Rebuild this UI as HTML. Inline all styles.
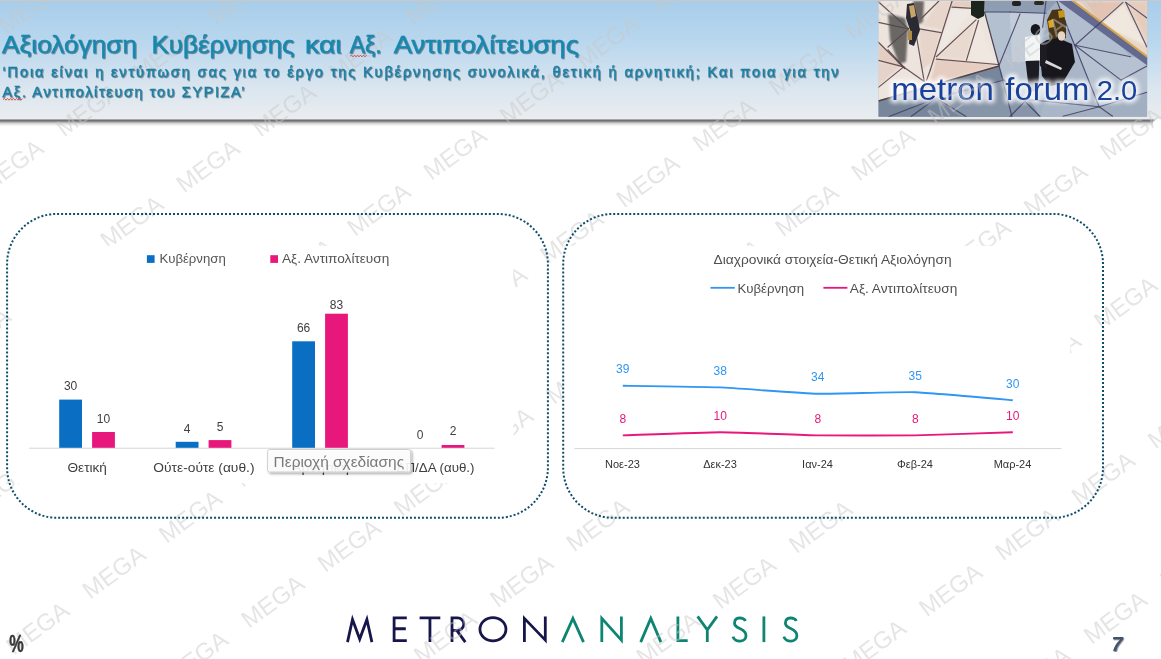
<!DOCTYPE html>
<html><head><meta charset="utf-8"><title>slide</title>
<style>
html,body{margin:0;padding:0;background:#fff;}
body{width:1161px;height:659px;overflow:hidden;font-family:"Liberation Sans",sans-serif;}
svg{display:block;font-family:"Liberation Sans",sans-serif;will-change:transform;transform:translateZ(0);}
</style></head><body>
<svg width="1161" height="659" viewBox="0 0 1161 659">
<defs>
<linearGradient id="hg" x1="0" y1="0" x2="0" y2="1">
<stop offset="0" stop-color="#a7cdea"/><stop offset="0.35" stop-color="#b9d7ee"/><stop offset="0.75" stop-color="#dbe6ef"/><stop offset="1" stop-color="#eaedf0"/>
</linearGradient>
<linearGradient id="sh" x1="0" y1="0" x2="0" y2="1">
<stop offset="0" stop-color="#3c3c3c" stop-opacity="0.9"/><stop offset="0.3" stop-color="#555" stop-opacity="0.7"/><stop offset="0.6" stop-color="#777" stop-opacity="0.3"/><stop offset="1" stop-color="#888" stop-opacity="0"/>
</linearGradient>
<filter id="glow" x="-10%" y="-40%" width="120%" height="180%"><feGaussianBlur stdDeviation="2.2"/></filter>
<filter id="blur05" x="-20%" y="-20%" width="140%" height="140%"><feGaussianBlur stdDeviation="0.5"/></filter>
<filter id="blur1" x="-20%" y="-20%" width="140%" height="140%"><feGaussianBlur stdDeviation="1.2"/></filter>
<filter id="blur2" x="-20%" y="-20%" width="140%" height="140%"><feGaussianBlur stdDeviation="2.5"/></filter>
<filter id="ts" x="-5%" y="-20%" width="110%" height="150%"><feDropShadow dx="0.8" dy="0.9" stdDeviation="0.5" flood-color="#123" flood-opacity="0.55"/></filter>
<filter id="tip" x="-10%" y="-30%" width="125%" height="180%"><feDropShadow dx="1.5" dy="1.5" stdDeviation="1.2" flood-color="#000" flood-opacity="0.35"/></filter>
<clipPath id="photo"><rect x="878.5" y="1" width="268.7" height="115.7"/></clipPath>
<clipPath id="hdr"><rect x="0" y="0" width="1161" height="119"/></clipPath>
<clipPath id="body"><rect x="0" y="119" width="1161" height="540"/></clipPath>
</defs>
<rect width="1161" height="659" fill="#fff"/>

<rect x="0" y="119.3" width="1153" height="7" fill="url(#sh)"/>
<path d="M1153 119.3 L1156 119.6 L1153 122 Z" fill="#666" opacity="0.6"/>
<rect x="0" y="0" width="1161" height="119.3" fill="url(#hg)"/>
<rect x="0" y="0" width="1161" height="1.2" fill="#c6c9cc"/>
<g clip-path="url(#photo)"><rect x="878" y="0" width="270" height="118" fill="#a3b1c4"/><polygon points="984.5,12 1046,13 1042,60 1030,100 1005,100 999,65.5" fill="#b3c0d0"/><polygon points="1010,13 1044,14 1040,62 1012,62" fill="#c3cdd9"/><polygon points="983,1 1057,1 1046,13 984.5,12" fill="#8f9db3"/><polygon points="1057,1 1075,45 1130.6,56.7 1099,23 1090,1" fill="#b1bed0"/><polygon points="1075,45 1147,60 1147,92 1099,106.7" fill="#b6c2d2"/><polygon points="1075,45 1099,106.7 1063,117 1040,117 1050,80" fill="#a9b6c8"/><polygon points="1099,106.7 1147,92 1147,117 1063,117" fill="#a2afc1"/><polygon points="878,100.6 999,65.5 1004,80 1012,117 878,117" fill="#77869b"/><polygon points="936,98 1004,80 1030,100 1040,117 960,117" fill="#8795a8"/><polygon points="878,0 983,0 984.5,12 999,65.5 878,100.6" fill="#ede5dd"/><g filter="url(#blur1)"><polygon points="919,29 941,32.6 932,62 921.8,70" fill="#e7d4ca"/><polygon points="952,1 983,1 984,8 951,7" fill="#e4ccc1"/><polygon points="939,1 952,1 944,30 922,26" fill="#e8d6cc"/><polygon points="936,59 998,64.5 990,68 930,84" fill="#e5cdc2"/><polygon points="878,42 905,68.7 878,60" fill="#e3cec3"/><polygon points="878,62 901,66 878,86" fill="#e5d2c8"/><polygon points="952,10 972,10 940,52 944,30" fill="#efe9e4"/><polygon points="978,21 966,60 997,64" fill="#efe7e0"/><polygon points="976,20 937,57 966,60" fill="#e9dad0"/></g><polygon points="1071.5,0 1148,0 1148,57.5" fill="#ead6c6"/><g filter="url(#blur1)"><polygon points="1085,2 1123,2 1099,23" fill="#e3c3b2"/><polygon points="1100,24 1124,4 1146,46" fill="#f0e7de"/><polygon points="1128,2 1147,2 1147,40" fill="#e6ccbc"/></g><polygon points="1057,0 1071.5,0 1148,57.5 1148,66" fill="#5d638a" opacity="0.92"/><polygon points="1070,0 1073.5,0 1148,56 1148,58.6" fill="#d4a64e"/><line x1="878.4" y1="1.8" x2="908.6" y2="28.9" stroke="#5a4348" stroke-width="1.2" stroke-linecap="round" fill="none" opacity="0.9"/><line x1="878.4" y1="22.3" x2="908.6" y2="28.9" stroke="#5a4348" stroke-width="1.2" stroke-linecap="round" fill="none" opacity="0.9"/><line x1="878.4" y1="42.2" x2="905" y2="68.7" stroke="#5a4348" stroke-width="1.2" stroke-linecap="round" fill="none" opacity="0.9"/><line x1="908.6" y1="28.9" x2="888" y2="47" stroke="#5a4348" stroke-width="1.2" stroke-linecap="round" fill="none" opacity="0.9"/><line x1="919.4" y1="28.9" x2="941.1" y2="32.6" stroke="#5a4348" stroke-width="1.2" stroke-linecap="round" fill="none" opacity="0.9"/><line x1="952" y1="1.2" x2="930.3" y2="70" stroke="#5a4348" stroke-width="1.2" stroke-linecap="round" fill="none" opacity="0.9"/><line x1="952" y1="7.2" x2="972.5" y2="8.4" stroke="#5a4348" stroke-width="1.2" stroke-linecap="round" fill="none" opacity="0.9"/><line x1="976" y1="19.9" x2="936.3" y2="56.7" stroke="#5a4348" stroke-width="1.2" stroke-linecap="round" fill="none" opacity="0.9"/><line x1="978.5" y1="20.5" x2="966.4" y2="60.3" stroke="#5a4348" stroke-width="1.2" stroke-linecap="round" fill="none" opacity="0.9"/><line x1="936.3" y1="59.1" x2="997.8" y2="64.5" stroke="#5a4348" stroke-width="1.2" stroke-linecap="round" fill="none" opacity="0.9"/><line x1="915.8" y1="32.5" x2="924.2" y2="81.4" stroke="#5a4348" stroke-width="1.2" stroke-linecap="round" fill="none" opacity="0.9"/><line x1="938.7" y1="1.2" x2="921.8" y2="18" stroke="#5a4348" stroke-width="1.2" stroke-linecap="round" fill="none" opacity="0.9"/><line x1="878.4" y1="60.3" x2="903.7" y2="66.9" stroke="#5a4348" stroke-width="1.2" stroke-linecap="round" fill="none" opacity="0.9"/><line x1="903.7" y1="66.9" x2="878.4" y2="87.4" stroke="#5a4348" stroke-width="1.2" stroke-linecap="round" fill="none" opacity="0.9"/><line x1="903.7" y1="66.9" x2="924.2" y2="81.4" stroke="#5a4348" stroke-width="1.2" stroke-linecap="round" fill="none" opacity="0.9"/><line x1="930.3" y1="70" x2="926.6" y2="80.1" stroke="#5a4348" stroke-width="1.2" stroke-linecap="round" fill="none" opacity="0.9"/><line x1="903.7" y1="66.9" x2="888" y2="50" stroke="#5a4348" stroke-width="1.2" stroke-linecap="round" fill="none" opacity="0.9"/><line x1="984.5" y1="12" x2="999" y2="65.5" stroke="#4a4050" stroke-width="1.2"/><line x1="878.4" y1="101" x2="999" y2="66" stroke="#4b3a38" stroke-width="1.8" opacity="0.9"/><line x1="1010" y1="12" x2="1046" y2="13.3" stroke="#3f3d63" stroke-width="1.15" stroke-linecap="round" fill="none" opacity="0.85"/><line x1="1046" y1="1.2" x2="1042.6" y2="27.7" stroke="#3f3d63" stroke-width="1.15" stroke-linecap="round" fill="none" opacity="0.85"/><line x1="1057" y1="1.2" x2="1099.2" y2="106.7" stroke="#3f3d63" stroke-width="1.15" stroke-linecap="round" fill="none" opacity="0.85"/><line x1="1075" y1="45.2" x2="1130.6" y2="56.7" stroke="#3f3d63" stroke-width="1.15" stroke-linecap="round" fill="none" opacity="0.85"/><line x1="1075" y1="45.2" x2="1121" y2="80.1" stroke="#3f3d63" stroke-width="1.15" stroke-linecap="round" fill="none" opacity="0.85"/><line x1="1075" y1="45.2" x2="1123" y2="2.4" stroke="#3f3d63" stroke-width="1.15" stroke-linecap="round" fill="none" opacity="0.85"/><line x1="1125.8" y1="2.4" x2="1146.9" y2="47" stroke="#3f3d63" stroke-width="1.15" stroke-linecap="round" fill="none" opacity="0.85"/><line x1="1125.8" y1="2.4" x2="1146.9" y2="18" stroke="#3f3d63" stroke-width="1.15" stroke-linecap="round" fill="none" opacity="0.85"/><line x1="1099.2" y1="106.7" x2="1146.9" y2="92.2" stroke="#3f3d63" stroke-width="1.15" stroke-linecap="round" fill="none" opacity="0.85"/><line x1="1099.2" y1="106.7" x2="1112.5" y2="116.3" stroke="#3f3d63" stroke-width="1.15" stroke-linecap="round" fill="none" opacity="0.85"/><line x1="1099.2" y1="106.7" x2="1063" y2="116.3" stroke="#3f3d63" stroke-width="1.15" stroke-linecap="round" fill="none" opacity="0.85"/><line x1="1099.2" y1="106.7" x2="1026.9" y2="99.4" stroke="#3f3d63" stroke-width="1.15" stroke-linecap="round" fill="none" opacity="0.85"/><line x1="1121" y1="80.1" x2="1147" y2="66" stroke="#3f3d63" stroke-width="1.15" stroke-linecap="round" fill="none" opacity="0.85"/><line x1="999" y1="65.5" x2="1012" y2="117" stroke="#3f3d63" stroke-width="1.15" stroke-linecap="round" fill="none" opacity="0.85"/><line x1="999" y1="65.5" x2="1020" y2="14" stroke="#3f3d63" stroke-width="1.15" stroke-linecap="round" fill="none" opacity="0.85"/><line x1="936.3" y1="98.2" x2="889" y2="116.5" stroke="#3f3d63" stroke-width="1.15" stroke-linecap="round" fill="none" opacity="0.85"/><line x1="936.3" y1="98.2" x2="911" y2="116.5" stroke="#3f3d63" stroke-width="1.15" stroke-linecap="round" fill="none" opacity="0.85"/><line x1="936.3" y1="98.2" x2="966" y2="116.5" stroke="#3f3d63" stroke-width="1.15" stroke-linecap="round" fill="none" opacity="0.85"/><line x1="936.3" y1="98.2" x2="1004" y2="80" stroke="#3f3d63" stroke-width="1.15" stroke-linecap="round" fill="none" opacity="0.85"/><line x1="1004" y1="80" x2="1040" y2="116.5" stroke="#3f3d63" stroke-width="1.15" stroke-linecap="round" fill="none" opacity="0.85"/><line x1="1026.9" y1="99.4" x2="1010" y2="116.5" stroke="#3f3d63" stroke-width="1.15" stroke-linecap="round" fill="none" opacity="0.85"/><line x1="984.5" y1="12" x2="1010" y2="12" stroke="#3f3d63" stroke-width="1.15" stroke-linecap="round" fill="none" opacity="0.85"/><g filter="url(#blur1)"><polygon points="888,14 905,18 908,30 906,62 899,64 890,40" fill="#4a4748" opacity="0.8"/><polygon points="913,1 924,1 923,22 916,26" fill="#55504e" opacity="0.85"/></g><g filter="url(#blur05)"><polygon points="907,4 914,3 918,20 920,30 914,46 909,44 910,30 906,18" fill="#2b2a35"/><polygon points="909,6 914,5 916,16 911,18" fill="#c9a56a"/><polygon points="908,30 912,31 912,40 908,40" fill="#b08a4a"/><polygon points="971,0 984.5,0 984,16 978,19 971,15" fill="#1c201c"/><rect x="1012" y="1" width="9" height="5" rx="2" fill="#222"/><rect x="1034" y="1" width="10" height="4" rx="2" fill="#2a2a20"/><polygon points="1047,20 1052,10 1062,9 1066,22 1066,38 1050,40" fill="#4a3518"/><polygon points="1048,21 1053,19 1054,27 1049,28" fill="#d9a520"/><polygon points="1058,11 1064,10 1065,17 1059,18" fill="#c8951c"/><ellipse cx="1035.5" cy="29.5" rx="4.8" ry="5.6" fill="#15151a"/><polygon points="1025,37 1040,35 1041,61 1025,62" fill="#f2f4f6"/><polygon points="1025.5,61 1039.5,60.5 1038,92 1029,90" fill="#1b1b20"/><polygon points="1047,40 1058,38 1072,44 1075,62 1062,84 1050,86 1042,76 1040,56" fill="#17171c"/><polygon points="1040,44 1047,40 1047,70 1040,66" fill="#1a1a22"/><ellipse cx="1061.5" cy="36" rx="3.8" ry="4.8" fill="#e6d6c6"/><polygon points="1046,60 1062,68 1061,70 1045,63" fill="#d8d8d8"/></g><g fill="#fff" stroke="#fff" stroke-width="6" stroke-linejoin="round" filter="url(#glow)" opacity="0.85"><text x="891.3" y="99.6" font-size="30.5" textLength="102.5" lengthAdjust="spacingAndGlyphs">metron</text><text x="1005.3" y="99.6" font-size="30.5" textLength="84" lengthAdjust="spacingAndGlyphs">forum</text><text x="1096.8" y="99.6" font-size="28" textLength="40.5" lengthAdjust="spacingAndGlyphs">2.0</text></g><g fill="#17419a"><text x="891.3" y="99.6" font-size="30.5" textLength="102.5" lengthAdjust="spacingAndGlyphs">metron</text><text x="1005.3" y="99.6" font-size="30.5" textLength="84" lengthAdjust="spacingAndGlyphs">forum</text><text x="1096.8" y="99.6" font-size="28" textLength="40.5" lengthAdjust="spacingAndGlyphs">2.0</text></g></g>
<g fill="none" stroke-width="2.8" stroke-linejoin="miter" stroke-miterlimit="10"><g stroke="#16164b"><path d="M347.5 642.1 L352.5 619.4 L359.7 639.1 L366.9 619.4 L371.9 642.1"/><path d="M406.8 617.8 L394.1 617.8 L394.1 640.7 L406.8 640.7 M394.1 628.75 L405.8 628.75"/><path d="M419.6 617.8 L440.3 617.8 M429.95 617.8 L429.95 642.1"/><path d="M452 642.1 L452 617.8 L457.5 617.8 A6.3 6.3 0 0 1 457.5 630.4 L452 630.4 M456.8 630.4 L465.3 642.1"/><ellipse cx="492.95" cy="629.25" rx="13.0" ry="11.650000000000023"/><path d="M524.4 642.1 L524.4 618.4 L545.3 640.1 L545.3 616.4"/></g><g stroke="#0e8573"><path d="M562.3 642.1 L572.9 618.4 L583.5 642.1"/><path d="M601.8 642.1 L601.8 618.4 L621.4 640.1 L621.4 616.4"/><path d="M640.7 642.1 L650.8 618.4 L660.9 642.1"/><path d="M677.9 616.4 L677.9 640.7 L687.7 640.7"/><path d="M697.6 616.4 L707.3 629.9 L717.0 616.4 M707.3 629.4 L707.3 642.1"/><path d="M745.4 621.0 C744.3 617.1999999999999 734.3 616.0 734.5 623.4 C734.6999999999999 629.4 746.1999999999999 627.9 746.0 635.6999999999999 C745.8 642.9 734.3 642.6 733.0 636.6"/><path d="M763.9 616.4 L763.9 642.1"/><path d="M796.3000000000001 621.0 C795.2 617.1999999999999 785.2 616.0 785.4000000000001 623.4 C785.6 629.4 797.1 627.9 796.9000000000001 635.6999999999999 C796.7 642.9 785.2 642.6 783.9000000000001 636.6"/></g></g>
<g font-size="24" fill="#c8c8c8" opacity="0.47"><text transform="translate(-70.0,91.0) rotate(-36.25)" textLength="71" lengthAdjust="spacingAndGlyphs">MEGA</text><text transform="translate(6.3,35.1) rotate(-36.25)" textLength="71" lengthAdjust="spacingAndGlyphs">MEGA</text><text transform="translate(-12.1,193.4) rotate(-36.25)" textLength="71" lengthAdjust="spacingAndGlyphs">MEGA</text><text transform="translate(64.1,137.5) rotate(-36.25)" textLength="71" lengthAdjust="spacingAndGlyphs">MEGA</text><text transform="translate(140.4,81.6) rotate(-36.25)" textLength="71" lengthAdjust="spacingAndGlyphs">MEGA</text><text transform="translate(216.7,25.6) rotate(-36.25)" textLength="71" lengthAdjust="spacingAndGlyphs">MEGA</text><text transform="translate(-44.7,361.4) rotate(-36.25)" textLength="71" lengthAdjust="spacingAndGlyphs">MEGA</text><text transform="translate(31.6,305.4) rotate(-36.25)" textLength="71" lengthAdjust="spacingAndGlyphs">MEGA</text><text transform="translate(107.9,249.5) rotate(-36.25)" textLength="71" lengthAdjust="spacingAndGlyphs">MEGA</text><text transform="translate(184.1,193.6) rotate(-36.25)" textLength="71" lengthAdjust="spacingAndGlyphs">MEGA</text><text transform="translate(260.4,137.7) rotate(-36.25)" textLength="71" lengthAdjust="spacingAndGlyphs">MEGA</text><text transform="translate(336.6,81.8) rotate(-36.25)" textLength="71" lengthAdjust="spacingAndGlyphs">MEGA</text><text transform="translate(412.9,25.8) rotate(-36.25)" textLength="71" lengthAdjust="spacingAndGlyphs">MEGA</text><text transform="translate(-26.4,516.6) rotate(-36.25)" textLength="71" lengthAdjust="spacingAndGlyphs">MEGA</text><text transform="translate(49.9,460.7) rotate(-36.25)" textLength="71" lengthAdjust="spacingAndGlyphs">MEGA</text><text transform="translate(126.1,404.8) rotate(-36.25)" textLength="71" lengthAdjust="spacingAndGlyphs">MEGA</text><text transform="translate(202.4,348.9) rotate(-36.25)" textLength="71" lengthAdjust="spacingAndGlyphs">MEGA</text><text transform="translate(278.6,292.9) rotate(-36.25)" textLength="71" lengthAdjust="spacingAndGlyphs">MEGA</text><text transform="translate(354.9,237.0) rotate(-36.25)" textLength="71" lengthAdjust="spacingAndGlyphs">MEGA</text><text transform="translate(431.2,181.1) rotate(-36.25)" textLength="71" lengthAdjust="spacingAndGlyphs">MEGA</text><text transform="translate(507.4,125.2) rotate(-36.25)" textLength="71" lengthAdjust="spacingAndGlyphs">MEGA</text><text transform="translate(583.7,69.3) rotate(-36.25)" textLength="71" lengthAdjust="spacingAndGlyphs">MEGA</text><text transform="translate(660.0,13.3) rotate(-36.25)" textLength="71" lengthAdjust="spacingAndGlyphs">MEGA</text><text transform="translate(-62.4,711.7) rotate(-36.25)" textLength="71" lengthAdjust="spacingAndGlyphs">MEGA</text><text transform="translate(13.8,655.7) rotate(-36.25)" textLength="71" lengthAdjust="spacingAndGlyphs">MEGA</text><text transform="translate(90.1,599.8) rotate(-36.25)" textLength="71" lengthAdjust="spacingAndGlyphs">MEGA</text><text transform="translate(166.4,543.9) rotate(-36.25)" textLength="71" lengthAdjust="spacingAndGlyphs">MEGA</text><text transform="translate(242.6,488.0) rotate(-36.25)" textLength="71" lengthAdjust="spacingAndGlyphs">MEGA</text><text transform="translate(318.9,432.1) rotate(-36.25)" textLength="71" lengthAdjust="spacingAndGlyphs">MEGA</text><text transform="translate(395.2,376.1) rotate(-36.25)" textLength="71" lengthAdjust="spacingAndGlyphs">MEGA</text><text transform="translate(471.4,320.2) rotate(-36.25)" textLength="71" lengthAdjust="spacingAndGlyphs">MEGA</text><text transform="translate(547.7,264.3) rotate(-36.25)" textLength="71" lengthAdjust="spacingAndGlyphs">MEGA</text><text transform="translate(624.0,208.4) rotate(-36.25)" textLength="71" lengthAdjust="spacingAndGlyphs">MEGA</text><text transform="translate(700.2,152.5) rotate(-36.25)" textLength="71" lengthAdjust="spacingAndGlyphs">MEGA</text><text transform="translate(776.5,96.5) rotate(-36.25)" textLength="71" lengthAdjust="spacingAndGlyphs">MEGA</text><text transform="translate(852.8,40.6) rotate(-36.25)" textLength="71" lengthAdjust="spacingAndGlyphs">MEGA</text><text transform="translate(929.0,-15.3) rotate(-36.25)" textLength="71" lengthAdjust="spacingAndGlyphs">MEGA</text><text transform="translate(172.7,684.9) rotate(-36.25)" textLength="71" lengthAdjust="spacingAndGlyphs">MEGA</text><text transform="translate(249.0,629.0) rotate(-36.25)" textLength="71" lengthAdjust="spacingAndGlyphs">MEGA</text><text transform="translate(325.3,573.1) rotate(-36.25)" textLength="71" lengthAdjust="spacingAndGlyphs">MEGA</text><text transform="translate(401.5,517.2) rotate(-36.25)" textLength="71" lengthAdjust="spacingAndGlyphs">MEGA</text><text transform="translate(477.8,461.3) rotate(-36.25)" textLength="71" lengthAdjust="spacingAndGlyphs">MEGA</text><text transform="translate(554.1,405.3) rotate(-36.25)" textLength="71" lengthAdjust="spacingAndGlyphs">MEGA</text><text transform="translate(630.3,349.4) rotate(-36.25)" textLength="71" lengthAdjust="spacingAndGlyphs">MEGA</text><text transform="translate(706.6,293.5) rotate(-36.25)" textLength="71" lengthAdjust="spacingAndGlyphs">MEGA</text><text transform="translate(782.9,237.6) rotate(-36.25)" textLength="71" lengthAdjust="spacingAndGlyphs">MEGA</text><text transform="translate(859.1,181.7) rotate(-36.25)" textLength="71" lengthAdjust="spacingAndGlyphs">MEGA</text><text transform="translate(935.4,125.7) rotate(-36.25)" textLength="71" lengthAdjust="spacingAndGlyphs">MEGA</text><text transform="translate(1011.7,69.8) rotate(-36.25)" textLength="71" lengthAdjust="spacingAndGlyphs">MEGA</text><text transform="translate(1087.9,13.9) rotate(-36.25)" textLength="71" lengthAdjust="spacingAndGlyphs">MEGA</text><text transform="translate(345.2,720.3) rotate(-36.25)" textLength="71" lengthAdjust="spacingAndGlyphs">MEGA</text><text transform="translate(421.5,664.4) rotate(-36.25)" textLength="71" lengthAdjust="spacingAndGlyphs">MEGA</text><text transform="translate(497.7,608.5) rotate(-36.25)" textLength="71" lengthAdjust="spacingAndGlyphs">MEGA</text><text transform="translate(574.0,552.5) rotate(-36.25)" textLength="71" lengthAdjust="spacingAndGlyphs">MEGA</text><text transform="translate(650.3,496.6) rotate(-36.25)" textLength="71" lengthAdjust="spacingAndGlyphs">MEGA</text><text transform="translate(726.5,440.7) rotate(-36.25)" textLength="71" lengthAdjust="spacingAndGlyphs">MEGA</text><text transform="translate(802.8,384.8) rotate(-36.25)" textLength="71" lengthAdjust="spacingAndGlyphs">MEGA</text><text transform="translate(879.1,328.9) rotate(-36.25)" textLength="71" lengthAdjust="spacingAndGlyphs">MEGA</text><text transform="translate(955.3,272.9) rotate(-36.25)" textLength="71" lengthAdjust="spacingAndGlyphs">MEGA</text><text transform="translate(1031.6,217.0) rotate(-36.25)" textLength="71" lengthAdjust="spacingAndGlyphs">MEGA</text><text transform="translate(1107.8,161.1) rotate(-36.25)" textLength="71" lengthAdjust="spacingAndGlyphs">MEGA</text><text transform="translate(567.8,722.0) rotate(-36.25)" textLength="71" lengthAdjust="spacingAndGlyphs">MEGA</text><text transform="translate(644.1,666.1) rotate(-36.25)" textLength="71" lengthAdjust="spacingAndGlyphs">MEGA</text><text transform="translate(720.4,610.1) rotate(-36.25)" textLength="71" lengthAdjust="spacingAndGlyphs">MEGA</text><text transform="translate(796.6,554.2) rotate(-36.25)" textLength="71" lengthAdjust="spacingAndGlyphs">MEGA</text><text transform="translate(872.9,498.3) rotate(-36.25)" textLength="71" lengthAdjust="spacingAndGlyphs">MEGA</text><text transform="translate(949.1,442.4) rotate(-36.25)" textLength="71" lengthAdjust="spacingAndGlyphs">MEGA</text><text transform="translate(1025.4,386.5) rotate(-36.25)" textLength="71" lengthAdjust="spacingAndGlyphs">MEGA</text><text transform="translate(1101.7,330.5) rotate(-36.25)" textLength="71" lengthAdjust="spacingAndGlyphs">MEGA</text><text transform="translate(1177.9,274.6) rotate(-36.25)" textLength="71" lengthAdjust="spacingAndGlyphs">MEGA</text><text transform="translate(774.3,729.3) rotate(-36.25)" textLength="71" lengthAdjust="spacingAndGlyphs">MEGA</text><text transform="translate(850.5,673.4) rotate(-36.25)" textLength="71" lengthAdjust="spacingAndGlyphs">MEGA</text><text transform="translate(926.8,617.5) rotate(-36.25)" textLength="71" lengthAdjust="spacingAndGlyphs">MEGA</text><text transform="translate(1003.1,561.6) rotate(-36.25)" textLength="71" lengthAdjust="spacingAndGlyphs">MEGA</text><text transform="translate(1079.3,505.7) rotate(-36.25)" textLength="71" lengthAdjust="spacingAndGlyphs">MEGA</text><text transform="translate(1155.6,449.7) rotate(-36.25)" textLength="71" lengthAdjust="spacingAndGlyphs">MEGA</text><text transform="translate(1015.2,701.0) rotate(-36.25)" textLength="71" lengthAdjust="spacingAndGlyphs">MEGA</text><text transform="translate(1091.4,645.1) rotate(-36.25)" textLength="71" lengthAdjust="spacingAndGlyphs">MEGA</text><text transform="translate(1167.7,589.2) rotate(-36.25)" textLength="71" lengthAdjust="spacingAndGlyphs">MEGA</text></g>
<g fill="#1888ae" stroke="#1888ae" stroke-width="0.45" filter="url(#ts)" font-size="23">
<text x="2.1" y="52.9" textLength="134.9" lengthAdjust="spacingAndGlyphs">Αξιολόγηση</text>
<text x="151.5" y="52.9" textLength="143.1" lengthAdjust="spacingAndGlyphs">Κυβέρνησης</text>
<text x="305" y="52.9" textLength="36.7" lengthAdjust="spacingAndGlyphs">και</text>
<text x="349.7" y="52.9" textLength="32.0" lengthAdjust="spacingAndGlyphs">Αξ.</text>
<text x="393.7" y="52.9" textLength="185.2" lengthAdjust="spacingAndGlyphs">Αντιπολίτευσης</text>
</g>
<g fill="#1a7fa4" stroke="#1a7fa4" stroke-width="0.4" filter="url(#ts)" font-size="14.5">
<text x="2.5" y="76.7" textLength="836" lengthAdjust="spacing">‘Ποια είναι η εντύπωση σας για το έργο της Κυβέρνησης συνολικά, θετική ή αρνητική; Και ποια για την</text>
<text x="2.5" y="96.8" textLength="242" lengthAdjust="spacing">Αξ. Αντιπολίτευση του ΣΥΡΙΖΑ’</text>
</g>
<path d="M350 56.3 L351.5 55.1 L353.0 56.9 L354.5 55.1 L356.0 56.9 L357.5 55.1 L359.0 56.9 L360.5 55.1 L362.0 56.9 L363.5 55.1 L365.0 56.9 L366.5 55.1" fill="none" stroke="#e0342b" stroke-width="0.8"/>
<path d="M3 99.6 L4.5 98.4 L6.0 100.2 L7.5 98.4 L9.0 100.2 L10.5 98.4 L12.0 100.2 L13.5 98.4 L15.0 100.2 L16.5 98.4 L18.0 100.2 L19.5 98.4 L21.0 100.2 L22.5 98.4" fill="none" stroke="#e0342b" stroke-width="0.8"/>
<rect x="14" y="245.8" width="499.3" height="237.5" fill="#fff"/>
<rect x="563" y="245.8" width="507.3" height="253.5" fill="#fff"/>
<rect x="7.1" y="213.9" width="540.8" height="303.9" rx="50" ry="50" fill="none" stroke="#0f4d6b" stroke-width="2" stroke-dasharray="2 2" pathLength="1604"/>
<rect x="563.2" y="213.9" width="539.8" height="303.9" rx="50" ry="50" fill="none" stroke="#0f4d6b" stroke-width="2" stroke-dasharray="2 2" pathLength="1600"/>
<rect x="146.9" y="255.2" width="7.7" height="7.7" fill="#0a6ec2"/>
<text x="159.4" y="263" font-size="13" fill="#555" textLength="66.4" lengthAdjust="spacingAndGlyphs">Κυβέρνηση</text>
<rect x="270.3" y="255.2" width="7.7" height="7.7" fill="#e8177c"/>
<text x="282" y="263" font-size="13" fill="#555" textLength="107.3" lengthAdjust="spacingAndGlyphs">Αξ. Αντιπολίτευση</text>
<rect x="29" y="447.7" width="465.5" height="1" fill="#d6d6d6"/>
<rect x="59.2" y="399.6" width="22.8" height="48.2" fill="#0a6ec2"/>
<rect x="92.1" y="432.0" width="22.8" height="15.8" fill="#e8177c"/>
<text x="70.6" y="390.4" font-size="12" fill="#404040" text-anchor="middle">30</text>
<text x="103.5" y="422.8" font-size="12" fill="#404040" text-anchor="middle">10</text>
<rect x="175.7" y="441.8" width="22.8" height="6.0" fill="#0a6ec2"/>
<rect x="208.6" y="440.1" width="22.8" height="7.7" fill="#e8177c"/>
<text x="187.1" y="432.6" font-size="12" fill="#404040" text-anchor="middle">4</text>
<text x="220.0" y="430.9" font-size="12" fill="#404040" text-anchor="middle">5</text>
<rect x="292.2" y="341.3" width="22.8" height="106.5" fill="#0a6ec2"/>
<rect x="325.1" y="313.7" width="22.8" height="134.1" fill="#e8177c"/>
<text x="303.6" y="332.1" font-size="12" fill="#404040" text-anchor="middle">66</text>
<text x="336.5" y="309.1" font-size="12" fill="#404040" text-anchor="middle">83</text>
<rect x="441.6" y="445.0" width="22.8" height="2.8" fill="#e8177c"/>
<text x="420.1" y="439.0" font-size="12" fill="#404040" text-anchor="middle">0</text>
<text x="453.0" y="435.0" font-size="12" fill="#404040" text-anchor="middle">2</text>
<text x="67.5" y="471.5" font-size="13" fill="#404040" textLength="39.4" lengthAdjust="spacingAndGlyphs">Θετική</text>
<text x="153.3" y="471.5" font-size="13" fill="#404040" textLength="101.2" lengthAdjust="spacingAndGlyphs">Ούτε-ούτε (αυθ.)</text>
<text x="292" y="471.5" font-size="13" fill="#404040" textLength="57" lengthAdjust="spacingAndGlyphs">Αρνητική</text>
<text x="396.5" y="471.5" font-size="13" fill="#404040" textLength="78" lengthAdjust="spacingAndGlyphs">ΔΠ/ΔΑ (αυθ.)</text>
<g filter="url(#tip)"><rect x="267.6" y="449.5" width="143" height="22.5" rx="2" ry="2" fill="#fff" fill-opacity="0.88" stroke="#cfcfcf" stroke-width="1"/></g>
<text x="273.6" y="467.3" font-size="15" fill="#7a7a7a" textLength="130.5" lengthAdjust="spacingAndGlyphs">Περιοχή σχεδίασης</text>
<text x="713.6" y="264.1" font-size="13" fill="#505050" textLength="238" lengthAdjust="spacingAndGlyphs">Διαχρονικά στοιχεία-Θετική Αξιολόγηση</text>
<rect x="710.5" y="286.9" width="24.3" height="1.8" fill="#2f96f3"/>
<text x="737.4" y="293" font-size="13" fill="#505050" textLength="66.6" lengthAdjust="spacingAndGlyphs">Κυβέρνηση</text>
<rect x="823.4" y="286.9" width="24" height="1.8" fill="#e8177c"/>
<text x="849.8" y="293" font-size="13" fill="#505050" textLength="107.5" lengthAdjust="spacingAndGlyphs">Αξ. Αντιπολίτευση</text>
<rect x="574.5" y="448.1" width="487" height="1" fill="#d6d6d6"/>
<path d="M622.8 385.8 C629.8 385.9 706.4 386.8 720.3 387.4 C734.2 388.0 803.9 393.5 817.8 393.8 C831.7 394.1 901.4 391.7 915.3 392.2 C929.2 392.7 1005.8 399.6 1012.8 400.2" fill="none" stroke="#2f96f3" stroke-width="1.9"/>
<path d="M622.8 435.4 C629.8 435.2 706.4 432.2 720.3 432.2 C734.2 432.2 803.9 435.2 817.8 435.4 C831.7 435.6 901.4 435.6 915.3 435.4 C929.2 435.2 1005.8 432.4 1012.8 432.2" fill="none" stroke="#e8177c" stroke-width="1.9"/>
<text x="622.8" y="373.2" font-size="12" fill="#2f96f3" text-anchor="middle">39</text>
<text x="720.3" y="374.8" font-size="12" fill="#2f96f3" text-anchor="middle">38</text>
<text x="817.8" y="381.2" font-size="12" fill="#2f96f3" text-anchor="middle">34</text>
<text x="915.3" y="379.6" font-size="12" fill="#2f96f3" text-anchor="middle">35</text>
<text x="1012.8" y="387.6" font-size="12" fill="#2f96f3" text-anchor="middle">30</text>
<text x="622.8" y="423.1" font-size="12" fill="#e8177c" text-anchor="middle">8</text>
<text x="720.3" y="419.9" font-size="12" fill="#e8177c" text-anchor="middle">10</text>
<text x="817.8" y="423.1" font-size="12" fill="#e8177c" text-anchor="middle">8</text>
<text x="915.3" y="423.1" font-size="12" fill="#e8177c" text-anchor="middle">8</text>
<text x="1012.8" y="419.9" font-size="12" fill="#e8177c" text-anchor="middle">10</text>
<text x="622.5" y="467.8" font-size="11" fill="#333" text-anchor="middle">Νοε-23</text>
<text x="720.0" y="467.8" font-size="11" fill="#333" text-anchor="middle">Δεκ-23</text>
<text x="817.5" y="467.8" font-size="11" fill="#333" text-anchor="middle">Ιαν-24</text>
<text x="915.0" y="467.8" font-size="11" fill="#333" text-anchor="middle">Φεβ-24</text>
<text x="1012.5" y="467.8" font-size="11" fill="#333" text-anchor="middle">Μαρ-24</text>
<text x="9.3" y="651.6" font-size="23" font-weight="bold" fill="#383838" stroke="#383838" stroke-width="0.5" textLength="14.5" lengthAdjust="spacingAndGlyphs">%</text>
<g filter="url(#ts)"><text x="1111.5" y="651.2" font-size="20" font-weight="bold" font-style="italic" fill="#42526a">7</text></g>
</svg></body></html>
